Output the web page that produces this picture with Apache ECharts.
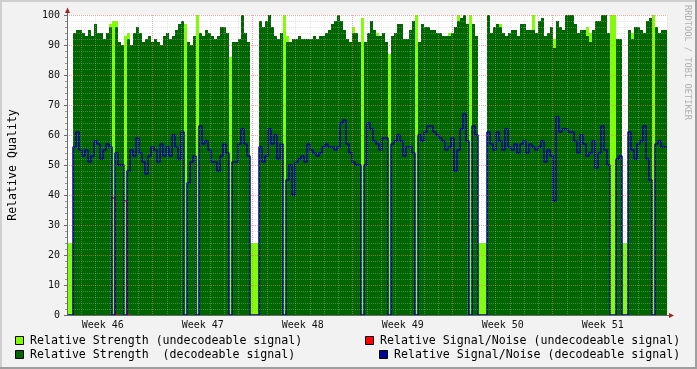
<!DOCTYPE html>
<html><head><meta charset="utf-8">
<script src="https://cdn.jsdelivr.net/npm/echarts@6/dist/echarts.min.js"></script>
<style>html,body{margin:0;padding:0;background:#f2f2f2;}#c{width:697px;height:369px;}</style>
</head><body><div id="c"></div>
<script>
// ---- data ----
const weekLabels = ['Week 46', 'Week 47', 'Week 48', 'Week 49', 'Week 50', 'Week 51'];
const SPAN_DAYS = 42;          // six weeks shown
const FIRST_MONDAY = 6;        // day offset of the first week boundary
// one sample = 42/200 day; values are the level held during that sample
const darkStrength = [
  0, 0, 94, 95, 95, 94, 93, 95, 93, 97,
  94, 94, 92, 94, 96, 0, 96, 91, 90, 0,
  92, 90, 94, 96, 94, 91, 92, 93, 91, 92,
  91, 90, 93, 94, 92, 93, 95, 97, 98, 0,
  91, 90, 93, 0, 94, 93, 95, 94, 93, 92,
  93, 96, 96, 94, 0, 91, 91, 92, 100, 94,
  91, 0, 0, 0, 98, 96, 98, 100, 96, 93,
  92, 94, 0, 91, 91, 92, 92, 93, 92, 92,
  92, 92, 93, 92, 93, 93, 94, 95, 97, 98,
  100, 98, 95, 92, 91, 94, 94, 91, 0, 91,
  94, 98, 95, 93, 93, 94, 91, 0, 93, 94,
  97, 97, 92, 92, 95, 98, 0, 91, 97, 96,
  96, 95, 95, 94, 94, 93, 93, 93, 94, 96,
  98, 99, 100, 97, 0, 97, 93, 0, 0, 0,
  100, 94, 96, 97, 96, 94, 93, 94, 95, 95,
  93, 97, 97, 95, 95, 95, 94, 98, 99, 93,
  94, 96, 89, 98, 96, 95, 100, 100, 100, 97,
  94, 95, 95, 93, 91, 95, 98, 98, 100, 100,
  94, 0, 0, 92, 92, 0, 0, 95, 92, 96,
  96, 95, 94, 98, 99, 0, 96, 94, 95, 95
];
const lightStrength = [
  24, 24, 0, 0, 0, 0, 0, 0, 0, 0,
  0, 0, 0, 0, 97, 98, 98, 0, 0, 93,
  94, 0, 0, 0, 0, 0, 0, 0, 0, 0,
  0, 0, 0, 0, 0, 0, 0, 0, 0, 97,
  0, 0, 0, 100, 0, 0, 0, 0, 0, 0,
  0, 0, 0, 0, 86, 0, 0, 0, 0, 0,
  0, 24, 24, 24, 0, 0, 0, 0, 0, 0,
  0, 0, 100, 93, 0, 0, 0, 0, 0, 0,
  0, 0, 0, 0, 0, 0, 0, 0, 0, 0,
  0, 0, 0, 0, 0, 96, 0, 0, 99, 0,
  0, 0, 0, 94, 0, 0, 0, 87, 0, 0,
  0, 0, 0, 0, 0, 0, 100, 0, 0, 0,
  0, 0, 0, 0, 0, 0, 0, 94, 0, 0,
  100, 0, 0, 0, 100, 0, 0, 24, 24, 24,
  0, 0, 0, 0, 97, 0, 0, 0, 0, 0,
  0, 0, 0, 0, 0, 100, 0, 0, 0, 0,
  0, 0, 92, 0, 0, 0, 0, 0, 0, 0,
  0, 0, 0, 96, 94, 0, 0, 0, 0, 0,
  0, 100, 100, 0, 0, 24, 24, 0, 94, 0,
  0, 0, 0, 0, 0, 100, 0, 0, 0, 0
];
const snDecodeable = [
  0, 0, 56, 61, 55, 53, 55, 51, 53, 58,
  57, 52, 55, 57, 56, 0, 54, 50, 50, 0,
  48, 55, 53, 59, 54, 51, 47, 53, 56, 55,
  51, 57, 53, 56, 53, 60, 56, 52, 61, 0,
  44, 51, 53, 0, 63, 57, 58, 55, 51, 51,
  48, 53, 57, 54, 0, 51, 51, 57, 62, 57,
  53, 0, 0, 0, 56, 51, 53, 62, 57, 60,
  52, 57, 0, 45, 50, 40, 51, 52, 53, 51,
  57, 55, 54, 53, 54, 56, 57, 56, 56, 55,
  56, 64, 65, 57, 54, 51, 50, 50, 0, 50,
  64, 62, 58, 57, 55, 59, 59, 0, 57, 58,
  60, 58, 53, 56, 56, 54, 0, 60, 58, 61,
  63, 63, 61, 60, 59, 58, 55, 56, 59, 48,
  55, 62, 67, 58, 0, 63, 60, 0, 0, 0,
  61, 57, 55, 61, 58, 55, 62, 56, 55, 57,
  54, 57, 58, 54, 57, 56, 55, 56, 58, 51,
  55, 53, 38, 66, 61, 62, 62, 61, 61, 58,
  54, 60, 57, 53, 54, 58, 49, 54, 63, 55,
  50, 0, 0, 52, 53, 0, 0, 61, 55, 52,
  57, 58, 63, 52, 45, 0, 57, 58, 56, 56
];
const snUndecodeable = [
  0, 0, 0, 0, 0, 0, 0, 0, 0, 0,
  0, 0, 0, 0, 0, 39, 0, 0, 0, 38,
  0, 0, 0, 0, 0, 0, 0, 0, 0, 0,
  0, 0, 0, 0, 0, 0, 0, 0, 0, 0,
  0, 0, 0, 0, 0, 0, 0, 0, 0, 0,
  0, 0, 0, 0, 0, 0, 0, 0, 0, 0,
  0, 0, 0, 0, 0, 0, 0, 0, 0, 0,
  0, 0, 0, 0, 0, 0, 0, 0, 0, 0,
  0, 0, 0, 0, 0, 0, 0, 0, 0, 0,
  0, 0, 0, 0, 0, 0, 0, 0, 0, 0,
  0, 0, 0, 0, 0, 0, 0, 0, 0, 0,
  0, 0, 0, 0, 0, 0, 0, 0, 0, 0,
  0, 0, 0, 0, 0, 0, 0, 0, 0, 0,
  0, 0, 0, 0, 0, 0, 0, 0, 0, 0,
  0, 0, 0, 0, 0, 0, 0, 0, 0, 0,
  0, 0, 0, 0, 0, 0, 0, 0, 0, 0,
  0, 0, 0, 0, 0, 0, 0, 0, 0, 0,
  0, 0, 0, 0, 0, 0, 0, 0, 0, 0,
  0, 0, 0, 0, 0, 0, 0, 0, 0, 0,
  0, 0, 0, 0, 0, 0, 0, 0, 0, 0
];
const seriesNames = [
  'Relative Strength (undecodeable signal)',
  'Relative Strength  (decodeable signal)',
  'Relative Signal/Noise (undecodeable signal)',
  'Relative Signal/Noise (decodeable signal)'
];
const yAxisTitle = 'Relative Quality';
const watermark = 'RRDTOOL / TOBI OETIKER';

// ---- styling / layout ----
const C_LIGHT = '#80ff00', C_DARK = '#006600', C_RED = '#ff0000', C_BLUE = '#000099';
const MINOR = 'rgba(190,190,190,0.38)', MAJOR = 'rgba(240,110,100,0.6)';
const FONT = 'DejaVu Sans Mono';
const G = { left: 67, top: 15, width: 600, height: 300 };
const sampleDays = SPAN_DAYS / darkStrength.length;

function stepData(values) {
  const d = values.map((v, i) => [i * sampleDays, v]);
  d.push([SPAN_DAYS, values[values.length - 1]]);
  return d;
}
// sparse version: keep only samples with a value and the sample right after (step back down)
function sparseStepData(values) {
  return stepData(values).map((p, i) => {
    const keep = p[1] > 0 || (i > 0 && values[i - 1] > 0);
    return keep ? p : [p[0], null];
  });
}
// vertical grid: one line per day, red at each week boundary
const xLineColors = [];
for (let j = 0; j < 14; j++) {
  const day = j / 2;
  xLineColors.push(j % 2 ? 'rgba(0,0,0,0)' : (day === FIRST_MONDAY % 7 ? MAJOR : MINOR));
}
function weekLabel(v) {
  const k = (v - (FIRST_MONDAY - 3.5)) / 7;
  const r = Math.round(k);
  if (Math.abs(k - r) < 1e-6 && r >= 0 && r < weekLabels.length) return weekLabels[r];
  return '';
}

const chart = echarts.init(document.getElementById('c'), null, { renderer: 'canvas' });
const axisCol = '#6a6a6a', arrowCol = '#a52222';
const gx = G.left + 0.5, gy = G.top + G.height + 0.5;
const legendRows = [
  { box: [15.5, 336.5], text: [30, 341], color: C_LIGHT, name: seriesNames[0] },
  { box: [15.5, 350.5], text: [30, 355], color: C_DARK, name: seriesNames[1] },
  { box: [365.5, 336.5], text: [380, 341], color: C_RED, name: seriesNames[2] },
  { box: [379.5, 350.5], text: [394, 355], color: C_BLUE, name: seriesNames[3] }
];
const graphics = [
  { type: 'rect', shape: { x: 0, y: 0, width: 697, height: 2 }, style: { fill: '#cfcfcf' }, silent: true },
  { type: 'rect', shape: { x: 0, y: 0, width: 2, height: 369 }, style: { fill: '#cfcfcf' }, silent: true },
  { type: 'rect', shape: { x: 695, y: 0, width: 2, height: 369 }, style: { fill: '#9e9e9e' }, silent: true },
  { type: 'rect', shape: { x: 0, y: 367, width: 697, height: 2 }, style: { fill: '#9e9e9e' }, silent: true },
  { type: 'line', shape: { x1: gx, y1: G.top, x2: gx, y2: G.top - 4 }, style: { stroke: axisCol, lineWidth: 1 }, z: 20 },
  { type: 'line', shape: { x1: G.left + G.width, y1: gy, x2: G.left + G.width + 3, y2: gy }, style: { stroke: axisCol, lineWidth: 1 }, z: 20 },
  { type: 'polygon', shape: { points: [[gx - 2.5, G.top - 2], [gx + 2.5, G.top - 2], [gx, G.top - 7.5]] }, style: { fill: arrowCol }, z: 21 },
  { type: 'polygon', shape: { points: [[G.left + G.width + 2, gy - 2.5], [G.left + G.width + 2, gy + 2.5], [G.left + G.width + 7, gy]] }, style: { fill: arrowCol }, z: 21 },
  { type: 'text', x: 687, y: 5, rotation: -Math.PI / 2, style: { text: watermark, fill: '#b0b0b0', font: '8.7px "DejaVu Sans Mono"', align: 'left', verticalAlign: 'middle' }, z: 20 }
];
legendRows.forEach(r => {
  graphics.push({ type: 'rect', shape: { x: r.box[0], y: r.box[1], width: 8, height: 8 }, style: { fill: r.color, stroke: '#000', lineWidth: 1 }, z: 20 });
  graphics.push({ type: 'text', x: r.text[0], y: r.text[1], style: { text: r.name, fill: '#000', font: '11.6px "DejaVu Sans Mono"', align: 'left', verticalAlign: 'middle' }, z: 20 });
});

const areaSeries = (name, values, color) => ({
  name, type: 'line', step: 'end', data: stepData(values), symbol: 'none', color,
  lineStyle: { width: 0, opacity: 0 }, areaStyle: { color, opacity: 1 }, silent: true, z: 2
});
const lineSeries = (name, data, color) => ({
  name, type: 'line', step: 'end', data, symbol: 'none', color, connectNulls: false,
  lineStyle: { width: 1.5, color }, silent: true, z: 2
});

chart.setOption({
  animation: false,
  backgroundColor: '#f2f2f2',
  grid: { left: G.left, top: G.top, width: G.width, height: G.height, show: true, backgroundColor: '#fff', borderWidth: 0, containLabel: false, outerBoundsMode: 'none' },
  xAxis: {
    type: 'value', min: 0, max: SPAN_DAYS, interval: 0.5, z: 5,
    axisLine: { show: true, onZero: false, lineStyle: { color: axisCol, width: 1 } },
    axisTick: { show: false },
    axisLabel: { formatter: weekLabel, fontFamily: FONT, fontSize: 10, color: '#111', margin: 5, showMinLabel: true, showMaxLabel: true },
    splitLine: { show: true, lineStyle: { color: xLineColors, width: 1, type: [1, 1] } }
  },
  yAxis: {
    type: 'value', min: 0, max: 100, interval: 10, z: 5,
    name: yAxisTitle, nameLocation: 'middle', nameGap: 48, nameRotate: 90,
    nameTextStyle: { fontFamily: FONT, fontSize: 11.6, color: '#000' },
    axisLine: { show: true, lineStyle: { color: axisCol, width: 1 } },
    axisTick: { show: true, length: 3, lineStyle: { color: axisCol } },
    minorTick: { show: true, splitNumber: 5, length: 2, lineStyle: { color: '#999' } },
    axisLabel: { fontFamily: FONT, fontSize: 10, color: '#111', margin: 7 },
    splitLine: { show: true, lineStyle: { color: MAJOR, width: 1, type: [1, 1] } },
    minorSplitLine: { show: true, lineStyle: { color: MINOR, width: 1, type: [1, 1] } }
  },
  series: [
    areaSeries(seriesNames[0], lightStrength, C_LIGHT),
    lineSeries(seriesNames[2], sparseStepData(snUndecodeable), C_RED),
    areaSeries(seriesNames[1], darkStrength, C_DARK),
    lineSeries(seriesNames[3], stepData(snDecodeable), C_BLUE)
  ],
  graphic: graphics
});
</script></body></html>
